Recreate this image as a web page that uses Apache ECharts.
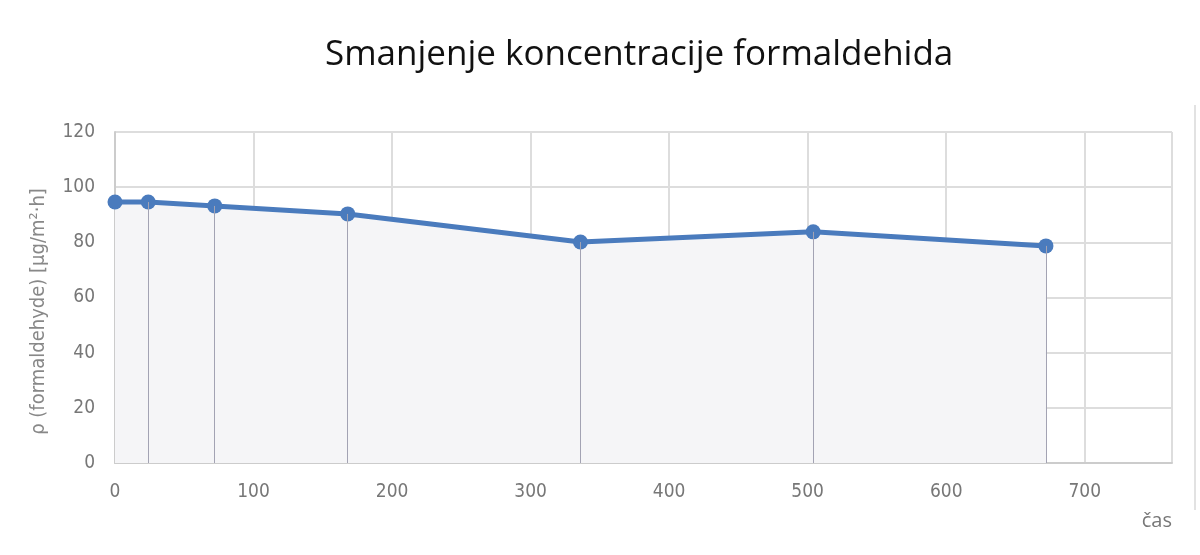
<!DOCTYPE html>
<html>
<head>
<meta charset="utf-8">
<script src="https://cdn.jsdelivr.net/npm/echarts@6/dist/echarts.min.js"></script>
<style>
  html, body { margin: 0; padding: 0; background: #fff; }
  #chart { width: 1200px; height: 555px; }
</style>
</head>
<body>
<div id="chart"></div>
<script>
// podaci
const hours = [0, 24, 72, 168, 336, 504, 672]
const concentration = [94.6, 94.6, 93.2, 90.3, 80.1, 83.8, 78.7]

const titleText = 'Smanjenje koncentracije formaldehida'
const yName = 'ρ (formaldehyde) [μg/m²·h]'
const xName = 'čas'

const labelFont = "'DejaVu Sans Condensed', 'Open Sans', sans-serif"

const points = hours.map((h, i) => [h, concentration[i]])

// okomite linije od točke do osi
const dropLines = points.slice(1).map(p => [
  { coord: [p[0], p[1]] },
  { coord: [p[0], 0] }
])

const chart = echarts.init(document.getElementById('chart'))

chart.setOption({
  animation: false,
  title: {
    text: titleText,
    left: 320,
    top: 33,
    textStyle: {
      fontFamily: "'Open Sans', sans-serif",
      fontSize: 35,
      fontWeight: 'normal',
      color: '#111'
    }
  },
  grid: { left: 115, right: 28, top: 132, bottom: 92 },
  xAxis: {
    type: 'value',
    min: 0,
    max: 763,
    interval: 100,
    name: xName,
    nameLocation: 'end',
    nameGap: 0,
    nameTextStyle: {
      fontFamily: "'Open Sans', sans-serif",
      fontSize: 20,
      color: '#777',
      align: 'right',
      verticalAlign: 'top',
      padding: [48, 0, 0, 0]
    },
    axisLine: { lineStyle: { color: '#ccc', width: 2 } },
    axisTick: { show: false },
    axisLabel: {
      margin: 20,
      showMaxLabel: false,
      fontFamily: labelFont,
      fontSize: 19,
      color: '#777'
    },
    splitLine: { show: true, lineStyle: { color: '#ddd', width: 2 } }
  },
  yAxis: {
    type: 'value',
    min: 0,
    max: 120,
    interval: 20,
    name: yName,
    nameLocation: 'middle',
    nameGap: 66,
    nameTextStyle: {
      fontFamily: labelFont,
      fontSize: 20,
      color: '#888',
      padding: [0, 0, 0, -28]
    },
    axisLine: { show: true, lineStyle: { color: '#ccc', width: 2 } },
    axisTick: { show: false },
    axisLabel: {
      margin: 20,
      fontFamily: labelFont,
      fontSize: 19,
      color: '#777'
    },
    splitLine: { lineStyle: { color: '#ddd', width: 2 } }
  },
  graphic: [{
    type: 'line',
    shape: { x1: 1195, y1: 105, x2: 1195, y2: 510 },
    style: { stroke: '#e2e2e2', lineWidth: 2 },
    silent: true
  }],
  series: [{
    type: 'line',
    data: points,
    symbol: 'circle',
    symbolSize: 15,
    lineStyle: { color: '#4a7bbd', width: 5 },
    itemStyle: { color: '#4a7bbd' },
    areaStyle: { color: '#f5f5f7', opacity: 1 },
    markLine: {
      silent: true,
      symbol: 'none',
      label: { show: false },
      lineStyle: { color: '#a3a3b3', width: 1, type: 'solid' },
      data: dropLines
    }
  }]
})
</script>
</body>
</html>
